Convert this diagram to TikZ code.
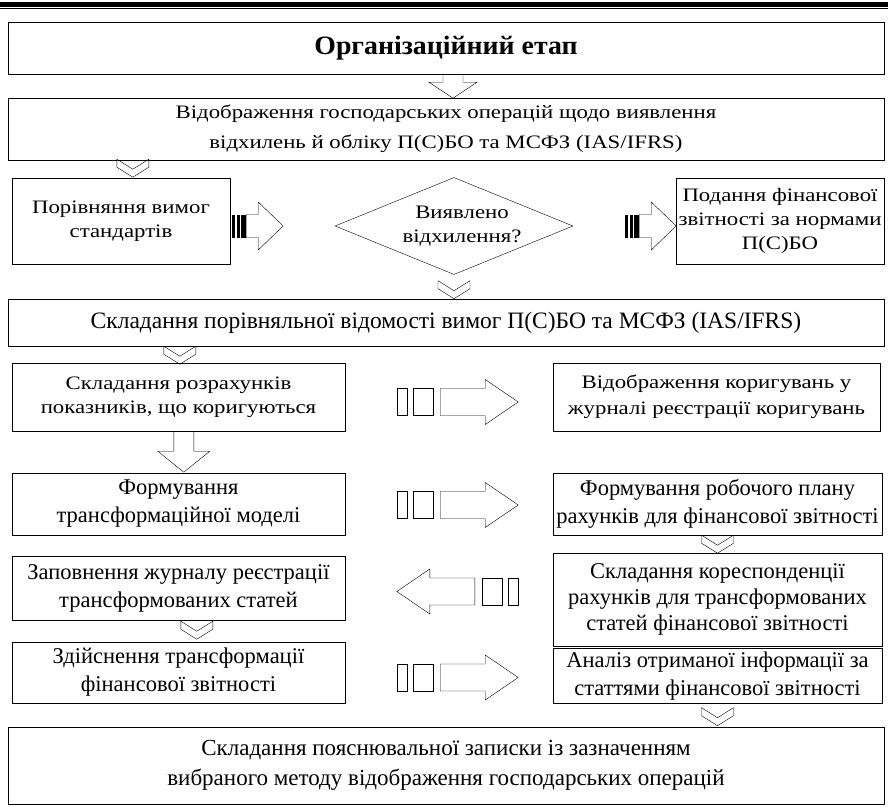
\documentclass[tikz,border=0pt]{standalone}
\usepackage{fontspec}
\setmainfont{Liberation Serif}
\newfontfamily\wideserif{Liberation Serif}[FakeStretch=1.2]
\newfontfamily\headserif{Liberation Serif}[FakeStretch=1.05]
\usetikzlibrary{shapes.geometric,calc,positioning}
\tikzset{
    x=1pt, y=-1pt, line width=2.5pt,
    box/.style ={rectangle, draw, align=center, inner sep=0pt},
    wide/.style = {font=\wideserif\fontsize{19}{24}\selectfont},
    tall/.style = {font=\fontsize{22.5}{28}\selectfont},
    heading/.style = {font=\headserif\bfseries\fontsize{26.5}{30}\selectfont},
    decision/.style = {diamond, draw, align=center, inner sep=0pt, aspect=2.45,
        minimum width=238pt, minimum height=97pt},
    % block arrows
    bigdrop/.pic = {
        \draw (-10,0) -- (10,0) -- (10,8) -- (24,8) -- (0,24) -- (-24,8) -- (-10,8) -- cycle;
    },
    longdrop/.pic = {
        \draw (-10,0) -- (10,0) -- (10,20) -- (26,20) -- (0,41) -- (-26,20) -- (-10,20) -- cycle;
    },
    chevron/.pic = {
        \draw (-16,0) -- (0,10) -- (16,0) -- (16,8) -- (0,18) -- (-16,8) -- cycle;
    },
    stripearrow/.pic = {
        \draw (0,-13.5) rectangle (10,13.5);
        \draw (16,-13.5) rectangle (36,13.5);
        \draw (43,-13.5) -- (88,-13.5) -- (88,-22.5) -- (121,0) -- (88,22.5) -- (88,13.5) -- (43,13.5) -- cycle;
    },
    tightarrow/.pic = {
        \fill (0,-11.5) rectangle (3,11.5);
        \fill (4.5,-11.5) rectangle (7.5,11.5);
        \fill (9,-11.5) rectangle (14,11.5);
        \draw (14,-11.5) -- (26,-11.5) -- (26,-24) -- (51,0) -- (26,24) -- (26,11.5) -- (14,11.5) -- cycle;
    }
}

\begin{document}
\begin{tikzpicture}
    \useasboundingbox (0,0) rectangle (888,806);

    % page header rules
    \draw[line width=5pt] (0,4.2) -- (888,4.2);
    \draw[line width=1.5pt] (0,8.3) -- (888,8.3);

    \node[box, heading, minimum width=876pt, minimum height=52pt] (org) at (446,48) {Організаційний етап};

    \node[box, wide, minimum width=876pt, minimum height=62pt] (show) at (446,129)
        {Відображення господарських операцій щодо виявлення\\[6pt]відхилень й обліку П(С)БО та МСФЗ (IAS/IFRS)};

    \node[box, wide, minimum width=218pt, minimum height=86pt] (cmp) at (121,221) {Порівняння вимог\\стандартів};

    \node[decision, wide, font=\wideserif\fontsize{19}{24}\selectfont] (found) at (454,226) {\hspace*{16pt}Виявлено\\\hspace*{16pt}відхилення?};

    \node[box, wide, minimum width=208pt, minimum height=86pt] (pres) at (780,221)
        {Подання фінансової\\звітності за нормами\\П(С)БО};

    \node[box, tall, font=\fontsize{23.5}{28}\selectfont, minimum width=876pt, minimum height=47pt] (sheet) at (446,322.5)
        {Складання порівняльної відомості вимог П(С)БО та МСФЗ (IAS/IFRS)};

    % left column
    \node[box, wide, minimum width=333pt, minimum height=68pt] (calc) at (178.5,397)
        {Складання розрахунків\\показників, що коригуються};
    \node[box, tall, minimum width=333pt, minimum height=62pt] (model) at (178.5,504)
        {Формування\\трансформаційної моделі};
    \node[box, tall, minimum width=333pt, minimum height=64pt] (journal) at (178.5,588)
        {Заповнення журналу реєстрації\\трансформованих статей};
    \node[box, tall, minimum width=333pt, minimum height=61pt] (trans) at (178.5,672.5)
        {Здійснення трансформації\\фінансової звітності};

    % right column
    \node[box, wide, font=\wideserif\fontsize{19}{26}\selectfont, minimum width=327pt, minimum height=68pt] (adj) at (716.5,397)
        {Відображення коригувань у\\журналі реєстрації коригувань};
    \node[box, tall, minimum width=329pt, minimum height=62pt] (plan) at (717.5,504)
        {Формування робочого плану\\рахунків для фінансової звітності};
    \node[box, tall, font=\fontsize{22.5}{26}\selectfont, minimum width=329pt, minimum height=93pt] (corr) at (717.5,599.5)
        {Складання кореспонденції\\рахунків для трансформованих\\статей фінансової звітності};
    \node[box, tall, minimum width=329pt, minimum height=55pt] (anal) at (717.5,676)
        {Аналіз отриманої інформації за\\статтями фінансової звітності};

    \node[box, tall, font=\fontsize{23}{30}\selectfont, minimum width=876pt, minimum height=77pt] (note) at (446,765.5)
        {Складання пояснювальної записки із зазначенням\\вибраного методу відображення господарських операцій};

    % arrows between the blocks
    \pic at ($(org.south)+(7,0)$) {bigdrop};
    \pic at ($(show.south west)+(125,-1)$) {chevron};
    \pic at ($(cmp.east |- found.center)+(2,0)$) {tightarrow};
    \pic at ($(found.east)+(52,0)$) {tightarrow};
    \pic at ($(found.south)+(0,6)$) {chevron};
    \pic at ($(sheet.south west)+(172,0)$) {chevron};

    \pic at ($(calc.east)+(52,5)$) {stripearrow};
    \pic at ($(calc.south west)+(172,0)$) {longdrop};
    \pic at ($(model.east)+(52,1)$) {stripearrow};
    \pic at ($(plan.south)+(0,0)$) {chevron};
    \pic[xscale=-1] at ($(corr.west)+(-35,-8)$) {stripearrow};
    \pic at ($(journal.south west)+(185,1)$) {chevron};
    \pic at ($(trans.east)+(52,5)$) {stripearrow};
    \pic at ($(anal.south)+(0,4)$) {chevron};

\end{tikzpicture}
\end{document}
